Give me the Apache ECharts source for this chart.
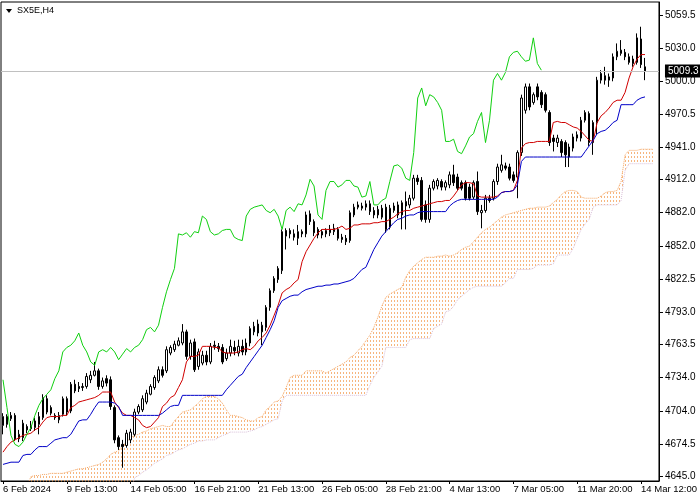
<!DOCTYPE html>
<html><head><meta charset="utf-8">
<script src="https://cdn.jsdelivr.net/npm/echarts@6/dist/echarts.min.js"></script>
<style>html,body{margin:0;padding:0;background:#fff}#c{width:700px;height:500px}</style>
</head><body><div id="c"></div>
<script>
// x tick labels (one every 16 H4 bars)
const tickLabels = ['6 Feb 2024','9 Feb 13:00','14 Feb 05:00','16 Feb 21:00','21 Feb 13:00','26 Feb 05:00','28 Feb 21:00','4 Mar 13:00','7 Mar 05:00','11 Mar 20:00','14 Mar 12:00'];
const yTicks = [4645.0,4674.5,4704.0,4734.0,4763.5,4793.0,4822.5,4852.0,4882.0,4912.0,4941.0,4970.5,5000.0,5030.0,5059.5];
const lastPrice = 5009.3;
const slotCount = 165;

// candles: [open, close, low, high]
const candles = [
[4691,4699,4683,4702],[4699,4692,4689,4701],[4697,4700,4695,4703],[4700,4679,4677,4702],[4679,4683,4676,4687],
[4680,4693,4677,4696],[4690,4687,4684,4692],[4688,4691,4686,4695],[4689,4695,4686,4698],[4692,4699,4683,4703],
[4698,4716,4696,4719],[4715,4703,4701,4718],[4707,4702,4700,4709],[4700,4698,4696,4702],[4696,4700,4693,4703],
[4701,4715,4699,4717],[4715,4703,4700,4717],[4704,4728,4702,4730],[4728,4722,4720,4732],[4726,4724,4721,4730],
[4725,4726,4722,4729],[4726,4735,4724,4738],[4732,4736,4729,4740],[4736,4740,4735,4748],[4740,4726,4723,4742],
[4726,4731,4724,4734],[4733,4729,4726,4736],[4732,4708,4705,4735],[4707,4678,4675,4709],[4680,4672,4669,4682],
[4674,4672,4653,4678],[4673,4684,4671,4687],[4678,4685,4675,4688],[4683,4703,4681,4706],[4703,4708,4701,4710],
[4705,4715,4703,4718],[4712,4720,4710,4723],[4719,4726,4718,4728],[4725,4734,4723,4736],[4731,4741,4729,4744],
[4741,4736,4734,4744],[4740,4759,4738,4762],[4756,4761,4754,4763],[4759,4764,4757,4767],[4763,4767,4762,4770],
[4765,4775,4763,4782],[4775,4753,4750,4777],[4753,4765,4750,4768],[4766,4741,4739,4769],[4744,4757,4741,4760],
[4747,4754,4745,4758],[4754,4748,4745,4758],[4748,4762,4746,4765],[4763,4762,4759,4767],[4762,4760,4757,4765],
[4761,4748,4746,4764],[4751,4756,4749,4760],[4756,4762,4753,4768],[4761,4758,4754,4767],[4756,4762,4753,4768],
[4762,4757,4754,4768],[4757,4765,4754,4769],[4765,4778,4762,4780],[4775,4780,4772,4784],[4782,4774,4771,4786],
[4775,4781,4763,4784],[4779,4797,4776,4799],[4797,4812,4794,4814],[4812,4823,4810,4825],[4822,4832,4819,4834],
[4830,4865,4827,4867],[4866,4861,4849,4868],[4866,4863,4859,4868],[4863,4860,4857,4867],[4859,4865,4853,4871],
[4865,4863,4860,4867],[4863,4880,4860,4883],[4881,4874,4871,4884],[4874,4864,4861,4876],[4867,4862,4859,4869],
[4865,4862,4859,4867],[4863,4866,4860,4868],[4864,4867,4861,4871],[4865,4868,4862,4872],[4867,4859,4857,4869],
[4860,4858,4855,4863],[4859,4856,4853,4862],[4857,4882,4855,4884],[4880,4887,4878,4890],[4889,4887,4885,4892],
[4886,4888,4884,4891],[4887,4890,4884,4893],[4890,4883,4880,4893],[4884,4880,4877,4887],[4880,4885,4877,4888],
[4886,4878,4876,4889],[4887,4867,4864,4890],[4869,4886,4867,4889],[4884,4888,4882,4891],[4889,4880,4877,4892],
[4880,4891,4867,4893],[4892,4888,4867,4901],[4889,4895,4886,4898],[4895,4913,4893,4916],[4913,4910,4907,4916],
[4911,4876,4874,4914],[4889,4876,4873,4893],[4876,4904,4873,4907],[4904,4910,4902,4912],[4906,4911,4903,4913],
[4910,4905,4902,4912],[4905,4909,4902,4911],[4907,4916,4904,4919],[4916,4909,4906,4925],[4914,4904,4902,4917],
[4909,4904,4902,4911],[4909,4895,4893,4911],[4905,4895,4893,4908],[4896,4909,4894,4911],[4910,4883,4880,4919],
[4882,4884,4868,4889],[4884,4895,4882,4898],[4895,4893,4891,4898],[4895,4910,4893,4912],[4910,4923,4907,4926],
[4920,4925,4918,4934],[4924,4922,4920,4927],[4923,4913,4911,4926],[4916,4911,4909,4919],[4914,4936,4895,4938],
[4936,4985,4933,4988],[4974,4995,4971,4998],[4995,4977,4974,4998],[4981,4988,4979,4990],[4995,4986,4983,4998],
[4990,4979,4976,4992],[4988,4974,4972,4990],[4972,4945,4942,4974],[4949,4946,4937,4952],[4945,4949,4941,4952],
[4946,4936,4932,4948],[4945,4934,4923,4947],[4932,4941,4923,4944],[4940,4950,4937,4953],[4949,4952,4946,4955],
[4949,4965,4946,4968],[4965,4972,4963,4974],[4971,4945,4942,4973],[4945,4963,4934,4965],[4963,5001,4952,5004],
[5001,5007,4998,5010],[5005,5001,4997,5013],[5001,5004,4995,5007],[5003,5022,5000,5025],[5022,5027,5019,5034],
[5025,5028,5023,5037],[5026,5022,5019,5029],[5022,5017,5015,5025],[5020,5016,5013,5023],[5017,5039,5015,5043],
[5038,5015,5012,5049],[5013,5009.3,5001,5021]
];

const tenkan = [
4667,4672,4676,4678,4680,4682,4683,4684,4687,4689,
4694,4698,4699,4699,4699,4700,4700,4707,4709,4712,
4713,4714,4715,4716,4718,4721,4721,4721,4712,4707,
4702,4700,4700,4698,4696,4691,4689,4690,4694,4698,
4708,4711,4716,4718,4725,4732,4748,4753,4753,4754,
4762,4762,4762,4761,4761,4757,4756,4756,4756,4757,
4759,4760,4759,4762,4767,4770,4774,4781,4790,4799,
4810,4813,4815,4819,4822,4838,4847,4853,4859,4864,
4867,4867,4867,4867,4868,4870,4867,4868,4871,4871,
4872,4872,4872,4873,4873,4874,4874,4876,4878,4881,
4883,4884,4884,4886,4887,4888,4889,4890,4891,4892,
4892,4893,4893,4897,4902,4907,4909,4909,4908,4897,
4896,4896,4896,4896,4897,4900,4901,4901,4902,4911,
4940,4944,4945,4945,4946,4946,4946,4946,4963,4964,
4963,4963,4961,4959,4958,4955,4951,4947,4946,4963,
4969,4972,4976,4981,4983,4983,4990,5003,5013,5020,
5024,5024
];

const kijun = [
4656,4657,4658,4658,4658,4664,4665,4665,4669,4672,
4672,4672,4675,4678,4679,4680,4680,4683,4689,4695,
4696,4696,4701,4707,4712,4712,4712,4712,4711,4708,
4700,4700,4700,4700,4700,4700,4700,4700,4700,4700,
4702,4705,4708,4709,4709,4718,4718,4718,4718,4718,
4718,4718,4718,4718,4718,4718,4723,4727,4731,4735,
4737,4743,4748,4753,4758,4763,4770,4777,4785,4797,
4803,4805,4807,4808,4808,4811,4813,4814,4815,4816,
4816,4817,4817,4818,4818,4819,4820,4821,4823,4827,
4831,4833,4841,4849,4855,4861,4865,4869,4873,4876,
4877,4879,4880,4880,4882,4883,4883,4883,4883,4883,
4883,4883,4888,4891,4893,4894,4894,4894,4894,4894,
4894,4894,4894,4894,4896,4900,4901,4901,4902,4907,
4928,4932,4932,4932,4932,4932,4932,4932,4932,4932,
4932,4932,4932,4932,4932,4932,4937,4942,4947,4953,
4955,4956,4959,4963,4965,4979,4979,4979,4979,4983,
4985,4986
];

const chikou = [
4732,4707,4682,4674,4672,4676,4683,4689,4700,4709,
4715,4719,4723,4733,4740,4757,4761,4763,4767,4774,
4763,4757,4748,4745,4757,4759,4757,4761,4757,4750,
4755,4760,4757,4761,4763,4768,4777,4779,4775,4781,
4797,4811,4822,4832,4863,4862,4864,4860,4865,4864,
4879,4876,4865,4862,4863,4866,4867,4867,4860,4858,
4857,4879,4885,4887,4888,4889,4884,4882,4885,4879,
4867,4884,4887,4883,4890,4889,4898,4912,4906,4880,
4876,4902,4910,4910,4905,4907,4911,4911,4906,4905,
4896,4897,4910,4889,4889,4893,4895,4910,4924,4925,
4922,4913,4911,4936,4985,4994,4978,4988,4986,4981,
4974,4946,4946,4948,4937,4935,4942,4950,4953,4964,
4972,4945,4965,5001,5007,5001,5008,5022,5026,5027,
5022,5018,5019,5039,5016,5010
];

const spanA = [
4636,4636,4636,4636,4636,4636,4636,
4645,4646,4646,4647,4647,4648,4648,4648,4648,4649,
4650,4651,4652,4652,4653,4654,4655,4656,4658,4661,
4665,4667,4668,4673,4676,4680,4682,4683,4685,4686,
4688,4689,4690,4691,4690,4690,4695,4699,4703,4704,
4705,4708,4711,4715,4717,4717,4717,4715,4711,4705,
4700,4700,4699,4698,4696,4695,4695,4698,4699,4705,
4708,4712,4713,4717,4725,4734,4736,4736,4736,4740,
4740,4740,4740,4740,4738,4740,4742,4744,4746,4748,
4752,4754,4758,4762,4767,4772,4779,4788,4798,4806,
4809,4811,4813,4815,4824,4830,4834,4837,4840,4842,
4842,4842,4843,4843,4844,4843,4844,4846,4849,4851,
4852,4856,4860,4864,4867,4869,4872,4875,4878,4880,
4881,4882,4883,4884,4885,4886,4886,4887,4887,4887,
4888,4891,4894,4898,4901,4902,4902,4901,4896,4895,
4895,4895,4895,4897,4900,4901,4901,4902,4910,4934,
4938,4938,4938,4939,4939,4939,4939
];

const spanB = [
4630,4630,4630,4630,4630,4630,4630,4630,4630,4630,4630,
4630,4630,4630,4630,4630,4630,4630,4630,4630,4630,4630,
4630,4630,4630,4630,4630,4630,4630,4630,4630,4630,4630,
4644,4646,4649,4651,4654,4657,4659,4661,4664,4665,
4667,4669,4670,4672,4674,4675,4677,4677,4678,4678,
4678,4680,4682,4683,4685,4685,4685,4685,4685,4686,
4687,4689,4690,4692,4694,4696,4697,4713,4718,4718,
4718,4718,4718,4718,4718,4718,4718,4718,4718,4718,
4718,4718,4718,4718,4718,4718,4718,4718,4718,4727,
4734,4739,4744,4761,4761,4761,4761,4761,4761,4768,
4769,4769,4769,4769,4769,4778,4780,4782,4793,4794,
4798,4804,4807,4810,4813,4815,4816,4816,4816,4816,
4816,4816,4816,4819,4823,4823,4831,4831,4831,4831,
4832,4835,4835,4835,4835,4836,4844,4844,4844,4844,
4850,4859,4867,4872,4876,4887,4889,4889,4889,4889,
4889,4889,4893,4920,4926,4926,4926,4926,4926,4926,4926
];

const categories = Array.from({length: slotCount}, (_, i) => String(i));
const cloudThick = spanA.map((a, i) => +(a - spanB[i]).toFixed(2));

function makeHatch() {
  const c = document.createElement('canvas');
  c.width = 3; c.height = 4;
  const g = c.getContext('2d');
  g.clearRect(0, 0, 3, 4);
  g.fillStyle = 'rgb(244,164,96)';
  g.fillRect(1, 0, 1, 2);
  return c;
}

const FONT = 'Liberation Sans';
const chart = echarts.init(document.getElementById('c'), null, {renderer: 'canvas', width: 700, height: 500});
const showTick = (i) => i % 16 === 0;

chart.setOption({
  animation: false,
  backgroundColor: '#ffffff',
  grid: {left: 1, right: 39, top: 2, bottom: 19, show: true, borderColor: '#000', borderWidth: 1},
  graphic: [
    {type: 'polygon', shape: {points: [[6, 9], [12, 9], [9, 13]]}, style: {fill: '#000'}},
    {type: 'text', style: {x: 17, y: 11, text: 'SX5E,H4', font: '9px ' + FONT, fill: '#000', verticalAlign: 'middle'}}
  ],
  xAxis: {
    type: 'category', data: categories, boundaryGap: true,
    axisLine: {show: true, lineStyle: {color: '#000'}},
    axisTick: {show: true, alignWithLabel: true, interval: showTick, length: 3, lineStyle: {color: '#000'}},
    axisLabel: {interval: showTick, formatter: (v, i) => tickLabels[i / 16] || '', align: 'left', margin: 3,
      fontSize: 9.5, fontFamily: FONT, color: '#000'},
    splitLine: {show: false}
  },
  yAxis: {
    type: 'value', position: 'right', min: 4641.1, max: 5071.2,
    axisLine: {show: true, lineStyle: {color: '#000'}},
    axisTick: {show: true, customValues: yTicks, length: 4, lineStyle: {color: '#000'}},
    axisLabel: {customValues: yTicks, formatter: v => v.toFixed(1), margin: 6, fontSize: 10, fontFamily: FONT, color: '#000'},
    splitLine: {show: false}
  },
  series: [
    {type: 'line', name: 'spanB', data: spanB, stack: 'cloud', symbol: 'none', silent: true, z: 1,
      lineStyle: {color: '#d8bfd8', width: 1, type: 'dotted'}},
    {type: 'line', name: 'cloud', data: cloudThick, stack: 'cloud', symbol: 'none', silent: true, z: 1,
      lineStyle: {color: '#f4a460', width: 1, type: 'dotted'},
      areaStyle: {color: {image: makeHatch(), repeat: 'repeat'}, opacity: 0.8}},
    {type: 'candlestick', name: 'SX5E', data: candles, barWidth: 2, silent: true, z: 3,
      itemStyle: {color: '#ffffff', color0: '#000000', borderColor: '#000000', borderColor0: '#000000', borderWidth: 1},
      markLine: {symbol: ['none', 'none'], silent: true, animation: false,
        data: [{yAxis: lastPrice}],
        lineStyle: {color: '#c0c0c0', width: 1, type: 'solid'},
        label: {show: true, position: 'end', formatter: lastPrice.toFixed(1), backgroundColor: '#000', color: '#fff',
          fontSize: 10, fontFamily: FONT, padding: [2, 3, 1, 3], distance: 6}}},
    {type: 'line', name: 'tenkan', data: tenkan, symbol: 'none', silent: true, z: 4,
      lineStyle: {color: '#d00000', width: 1}},
    {type: 'line', name: 'kijun', data: kijun, symbol: 'none', silent: true, z: 4,
      lineStyle: {color: '#0000c8', width: 1}},
    {type: 'line', name: 'chikou', data: chikou, symbol: 'none', silent: true, z: 4,
      lineStyle: {color: '#10d010', width: 1}}
  ]
});
</script>
</body></html>
